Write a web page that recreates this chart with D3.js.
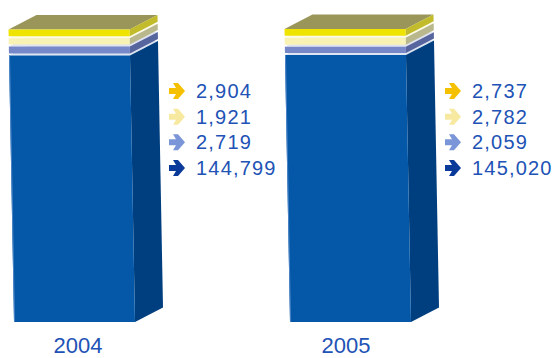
<!DOCTYPE html>
<html>
<head>
<meta charset="utf-8">
<script src="https://cdn.jsdelivr.net/npm/d3@7"></script>
<style>
  body { margin: 0; background: #fff; }
  svg { display: block; }
</style>
</head>
<body>
<script>
// data (top layer listed last)
var years = ["2004", "2005"];
var blueVals = [144799, 145020];
var lightBlueVals = [2719, 2059];
var creamVals = [1921, 2782];
var yellowVals = [2904, 2737];

var width = 560, height = 358;
var base = 322;        // bottom of the bars
var dx = 28, dy = -14.5; // depth of the 3d boxes
var skew = 5 / 266;    // bars lean a little to the left at the top
var gap = 2;

var svg = d3.select("body").append("svg")
    .attr("width", width)
    .attr("height", height);

var x = d3.scaleBand()
    .domain(years)
    .range([14, 411])
    .paddingInner(0.5616)
    .paddingOuter(0);

// year labels are not quite centred under the bars
var xLabel = d3.scalePoint()
    .domain(years)
    .range([78, 346]);

var y = d3.scaleLinear()
    .domain([0, 145020])
    .range([base, 55]);

// the thin layers on top are not to the same scale
var thick = d3.scaleLinear()
    .domain([0, 3000])
    .range([5, 7]);

var layers = [
    { vals: lightBlueVals, front: "#7688c8", side: "#56659e", top: "#dfe3f2", arrow: "#7a96d8" },
    { vals: creamVals, front: "#f8f2b4", side: "#b9b88c", top: "#fdfbe6", arrow: "#f7e9a0" },
    { vals: yellowVals, front: "#efe300", side: "#c2bb2c", top: "#9a965a", arrow: "#f5c000" }
];

function xl(x0, yy) {
    return x0 - (base - yy) * skew;
}

function box(g, x0, w, y0, y1, c) {
    var a = xl(x0, y0), b = xl(x0, y1);
    g.append("polygon")
        .attr("points", [[a, y0], [a + dx, y0 + dy], [a + w + dx, y0 + dy], [a + w, y0]].join(" "))
        .attr("fill", c.top);
    g.append("polygon")
        .attr("points", [[a + w, y0], [a + w + dx, y0 + dy], [b + w + dx, y1 + dy], [b + w, y1]].join(" "))
        .attr("fill", c.side);
    g.append("polygon")
        .attr("points", [[a, y0], [a + w, y0], [b + w, y1], [b, y1]].join(" "))
        .attr("fill", c.front);
}

years.forEach(function(yr, i) {
    var g = svg.append("g");
    var x0 = x(yr), w = x.bandwidth();

    // main bar
    var top = y(blueVals[i]);
    box(g, x0, w, top, base, { front: "#0558a8", side: "#003f7f", top: "#dde5f3" });
    // highlight on the left edge
    g.append("line")
        .attr("x1", xl(x0, top) + 0.5).attr("y1", top)
        .attr("x2", xl(x0, base) + 0.5).attr("y2", base)
        .attr("stroke", "#4f86c6").attr("stroke-width", 1);

    var bottom = top;
    layers.forEach(function(l) {
        var b = bottom - gap;
        var t = b - thick(l.vals[i]);
        box(g, x0, w, t, b, l);
        bottom = t;
    });

    // value labels with arrows, top layer first
    var rows = [
        { v: yellowVals[i], c: layers[2].arrow },
        { v: creamVals[i], c: layers[1].arrow },
        { v: lightBlueVals[i], c: layers[0].arrow },
        { v: blueVals[i], c: "#0a3a9a" }
    ];
    var rowY = d3.scalePoint().domain(d3.range(4)).range([91, 168]);
    rows.forEach(function(r, j) {
        var cy = rowY(j);
        var ax = x0 + 155;
        g.append("path")
            .attr("d", "M" + ax + "," + (cy - 3) +
                " L" + (ax + 7) + "," + (cy - 3) +
                " L" + (ax + 4) + "," + (cy - 8) +
                " L" + (ax + 9) + "," + (cy - 8) +
                " L" + (ax + 16) + "," + cy +
                " L" + (ax + 9) + "," + (cy + 8) +
                " L" + (ax + 4) + "," + (cy + 8) +
                " L" + (ax + 7) + "," + (cy + 3) +
                " L" + ax + "," + (cy + 3) + " Z")
            .attr("fill", r.c);
        g.append("text")
            .attr("x", x0 + 182)
            .attr("y", cy + 7)
            .attr("font-family", "Liberation Sans, Arial, sans-serif")
            .attr("font-size", "20px")
            .attr("letter-spacing", "1.2px")
            .attr("fill", "#2152b5")
            .text(d3.format(",")(r.v));
    });

    // year label
    g.append("text")
        .attr("x", xLabel(yr))
        .attr("y", 353)
        .attr("text-anchor", "middle")
        .attr("font-family", "Liberation Sans, Arial, sans-serif")
        .attr("font-size", "22px")
        .attr("fill", "#2152b5")
        .text(yr);
});
</script>
</body>
</html>
